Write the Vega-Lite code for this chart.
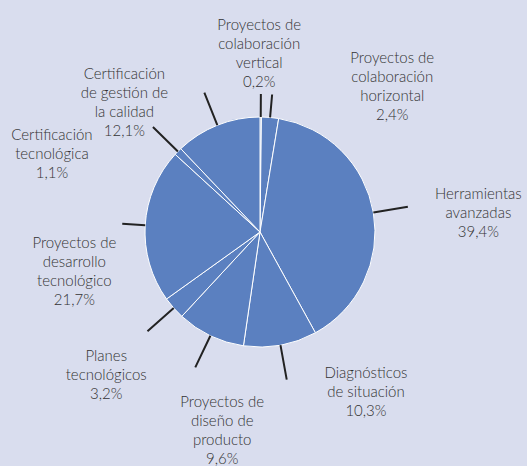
{
  "$schema": "https://vega.github.io/schema/vega-lite/v6.json",
  "width": 520,
  "height": 464,
  "autosize": "none",
  "padding": {"left": 0, "top": 0, "right": 7, "bottom": 2},
  "background": "#d9ddee",
  "config": {"view": {"stroke": null}, "text": {"font": "Lato", "fontSize": 15, "fontWeight": 300, "color": "#333333", "lineHeight": 19, "lineBreak": "\n", "align": "center", "baseline": "middle"}},
  "data": {
    "values": [
      {"categoria": "Proyectos de colaboración vertical", "etiqueta": "Proyectos de\ncolaboración\nvertical\n0,2%", "pct": 0.2},
      {"categoria": "Proyectos de colaboración horizontal", "etiqueta": "Proyectos de\ncolaboración\nhorizontal\n2,4%", "pct": 2.4},
      {"categoria": "Herramientas avanzadas", "etiqueta": "Herramientas\navanzadas\n39,4%", "pct": 39.4},
      {"categoria": "Diagnósticos de situación", "etiqueta": "Diagnósticos\nde situación\n10,3%", "pct": 10.3},
      {"categoria": "Proyectos de diseño de producto", "etiqueta": "Proyectos de\ndiseño de\nproducto\n9,6%", "pct": 9.6},
      {"categoria": "Planes tecnológicos", "etiqueta": "Planes\ntecnológicos\n3,2%", "pct": 3.2},
      {"categoria": "Proyectos de desarrollo tecnológico", "etiqueta": "Proyectos de\ndesarrollo\ntecnológico\n21,7%", "pct": 21.7},
      {"categoria": "Certificación tecnológica", "etiqueta": "Certificación\ntecnológica\n1,1%", "pct": 1.1},
      {"categoria": "Certificación de gestión de la calidad", "etiqueta": "Certificación\nde gestión de\nla calidad\n12,1%", "pct": 12.1}
    ]
  },
  "transform": [
    {"stack": "pct", "groupby": [], "as": ["a0", "a1"]},
    {"calculate": "(datum.a0 + datum.a1) / 2", "as": "mid"}
  ],
  "layer": [
    {
      "mark": {"type": "arc", "outerRadius": 115, "fill": "#5b80c0", "stroke": "#ffffff", "strokeWidth": 1},
      "encoding": {
        "theta": {"field": "a1", "type": "quantitative", "stack": null, "scale": {"nice": false}},
        "theta2": {"field": "a0"}
      }
    },
    {
      "transform": [{"filter": {"field": "categoria", "oneOf": ["Herramientas avanzadas", "Diagnósticos de situación", "Proyectos de diseño de producto", "Planes tecnológicos", "Certificación tecnológica", "Certificación de gestión de la calidad"]}}],
      "mark": {"type": "arc", "outerRadius": 150, "innerRadius": 115, "fill": null, "stroke": "#222222", "strokeWidth": 2},
      "encoding": {
        "theta": {"field": "mid", "type": "quantitative", "stack": null},
        "theta2": {"field": "mid"}
      }
    },
    {
      "transform": [{"filter": {"field": "categoria", "oneOf": ["Proyectos de colaboración vertical", "Proyectos de colaboración horizontal", "Proyectos de desarrollo tecnológico"]}}],
      "mark": {"type": "arc", "outerRadius": 138, "innerRadius": 115, "fill": null, "stroke": "#222222", "strokeWidth": 2},
      "encoding": {
        "theta": {"field": "mid", "type": "quantitative", "stack": null},
        "theta2": {"field": "mid"}
      }
    },
    {
      "transform": [{"filter": {"field": "categoria", "equal": "Proyectos de colaboración vertical"}}],
      "mark": {"type": "text", "radius": 185, "dx": -2, "dy": -22},
      "encoding": {"theta": {"field": "mid", "type": "quantitative", "stack": null}, "text": {"field": "etiqueta"}}
    },
    {
      "transform": [{"filter": {"field": "categoria", "equal": "Proyectos de colaboración horizontal"}}],
      "mark": {"type": "text", "radius": 185, "dx": 116, "dy": 10},
      "encoding": {"theta": {"field": "mid", "type": "quantitative", "stack": null}, "text": {"field": "etiqueta"}}
    },
    {
      "transform": [{"filter": {"field": "categoria", "equal": "Herramientas avanzadas"}}],
      "mark": {"type": "text", "radius": 185, "dx": 36, "dy": -7},
      "encoding": {"theta": {"field": "mid", "type": "quantitative", "stack": null}, "text": {"field": "etiqueta"}}
    },
    {
      "transform": [{"filter": {"field": "categoria", "equal": "Diagnósticos de situación"}}],
      "mark": {"type": "text", "radius": 185, "dx": 73, "dy": -41},
      "encoding": {"theta": {"field": "mid", "type": "quantitative", "stack": null}, "text": {"field": "etiqueta"}}
    },
    {
      "transform": [{"filter": {"field": "categoria", "equal": "Proyectos de diseño de producto"}}],
      "mark": {"type": "text", "radius": 185, "dx": 42, "dy": 3},
      "encoding": {"theta": {"field": "mid", "type": "quantitative", "stack": null}, "text": {"field": "etiqueta"}}
    },
    {
      "transform": [{"filter": {"field": "categoria", "equal": "Planes tecnológicos"}}],
      "mark": {"type": "text", "radius": 185, "dx": -15, "dy": 2},
      "encoding": {"theta": {"field": "mid", "type": "quantitative", "stack": null}, "text": {"field": "etiqueta"}}
    },
    {
      "transform": [{"filter": {"field": "categoria", "equal": "Proyectos de desarrollo tecnológico"}}],
      "mark": {"type": "text", "radius": 185, "dx": -1, "dy": 22},
      "encoding": {"theta": {"field": "mid", "type": "quantitative", "stack": null}, "text": {"field": "etiqueta"}}
    },
    {
      "transform": [{"filter": {"field": "categoria", "equal": "Certificación tecnológica"}}],
      "mark": {"type": "text", "radius": 185, "dx": -76, "dy": 33},
      "encoding": {"theta": {"field": "mid", "type": "quantitative", "stack": null}, "text": {"field": "etiqueta"}}
    },
    {
      "transform": [{"filter": {"field": "categoria", "equal": "Certificación de gestión de la calidad"}}],
      "mark": {"type": "text", "radius": 185, "dx": -67, "dy": 14},
      "encoding": {"theta": {"field": "mid", "type": "quantitative", "stack": null}, "text": {"field": "etiqueta"}}
    }
  ]
}
